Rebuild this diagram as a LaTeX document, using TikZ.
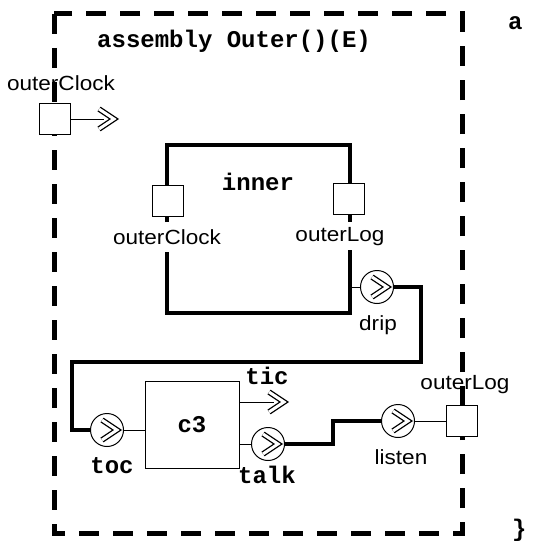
\documentclass[tikz,border=0pt]{standalone}
\usepackage{fontspec}
\newfontfamily\lab[FakeStretch=1.1]{Liberation Sans}
\newfontfamily\cour{Liberation Mono}
\begin{document}
\begin{tikzpicture}[x=1pt,y=-1pt,
  thickw/.style={line width=4.2pt},
  thinw/.style={line width=0.9pt},
  port/.style={draw, line width=0.9pt, fill=white, minimum width=31pt, minimum height=31pt, inner sep=0},
  pcirc/.style={draw, line width=1pt, circle, minimum size=33pt, inner sep=0, fill=white},
  lbl/.style={font=\lab\fontsize{20.5}{24}\selectfont, inner sep=0},
  code/.style={font=\cour\bfseries\fontsize{24}{28}\selectfont, inner sep=0},
  chev/.pic={\draw[double, double distance=3pt, line width=1.3pt, miter limit=10] (-15,-10)--(0,0)--(-15,10);}
]
\useasboundingbox (0,0) rectangle (542,543);
% outer assembly border
\draw[line width=5pt, dash pattern=on 20pt off 14pt] (54,14) rectangle (462,533);
\node[code, anchor=base west] (title) at (97,48) {assembly Outer()(E)};
\node[code, anchor=base west] (ca) at (508,30) {a};
\node[code, anchor=south west] (cb) at (512,542) {\}};
% outer clock port
\node[port] (ocp) at (55,119) {};
\node[lbl] (ocl) at (61,83) {outerClock};
\coordinate (octip) at (114,119);
\draw[thinw] (ocp.east) -- ([xshift=-10pt]octip);
\pic at (octip) {chev};
% inner assembly
\draw[thickw] (167,222) -- (167,145) -- (350,145) -- (350,222);
\draw[thickw] (167,252) -- (167,313) -- (350,313) -- (350,250);
\node[port] (icp) at (167.5,201) {};
\node[port] (ilp) at (349,199) {};
\node[lbl] (icl) at (167,237) {outerClock};
\node[lbl] (ill) at (340,237) {outerLog};
\node[code] (inner) at (258,182) {inner};
% drip
\node[pcirc] (drip) at (377,287) {};
\pic at (387,287) {chev};
\draw[thinw] (350,287) -- (drip.west);
\node[lbl] (dripl) at (378,325) {drip};
\draw[thickw] (drip.east) -- (421,287) -- (421,362) -- (72,362) -- (72,430) -- (107,430);
% c3
\node[draw, thinw, minimum width=94pt, minimum height=87pt, inner sep=0, font=\cour\bfseries\fontsize{24}{28}\selectfont] (c3) at (192,424.5) {c3};
\node[pcirc] (toc) at (107,430) {};
\pic at (117,430) {chev};
\draw[thinw] (toc.east) -- (toc.east -| c3.west);
\node[code] (tocl) at (112,466) {toc};
\coordinate (tictip) at (284,402);
\draw[thinw] (c3.east |- tictip) -- ([xshift=-10pt]tictip);
\pic at (tictip) {chev};
\node[code] (ticl) at (267,376) {tic};
\node[pcirc] (talk) at (268,444) {};
\pic at (278,444) {chev};
\draw[thinw] (c3.east |- talk) -- (talk.west);
\node[code] (talkl) at (267,475) {talk};
% listen
\node[pcirc] (listen) at (398,421) {};
\pic at (408,421) {chev};
\draw[thickw] (talk.east) -- (333,444) -- (333,421) -- (listen.west);
\node[lbl] (listenl) at (401,457) {listen};
\node[port] (olp) at (462,421) {};
\draw[thinw] (listen.east) -- (olp.west);
\node[lbl] (oll) at (465,385) {outerLog};
\end{tikzpicture}
\end{document}
